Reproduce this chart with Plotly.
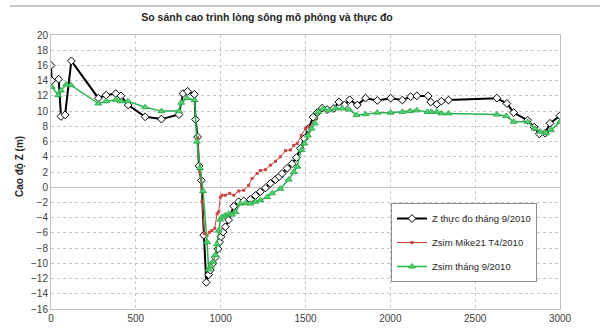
import plotly.graph_objects as go

# Measured bed elevation, Sept 2010
x_meas = [0, 4, 45, 59, 83, 120, 279, 325, 382, 412, 455, 555, 651, 754, 778, 805, 845, 852, 864, 872, 886,
          900, 915, 929, 939, 955, 969, 984, 994, 1002, 1014, 1028, 1047, 1077, 1106, 1136, 1175, 1205, 1234,
          1264, 1293, 1323, 1345, 1362, 1392, 1421, 1447, 1470, 1494, 1516, 1545, 1569, 1599, 1628, 1667,
          1697, 1730, 1760, 1805, 1854, 1923, 2002, 2071, 2120, 2156, 2223, 2238, 2274, 2301, 2343, 2628,
          2687, 2727, 2809, 2848, 2878, 2913, 2941, 3000]
z_meas = [16.0, 14.0, 14.2, 9.3, 9.5, 16.6, 11.7, 12.1, 12.3, 12.0, 10.8, 9.25, 8.95, 9.55, 12.3, 12.6, 12.2,
          8.9, 6.6, 2.8, 0.9, -6.3, -12.5, -11.5, -10.9, -10.0, -9.2, -8.1, -7.2, -6.5, -5.9, -5.2, -4.3,
          -2.5, -1.9, -1.8, -1.6, -1.1, -0.6, -0.1, 0.5, 1.0, 1.4, 1.8, 2.5, 3.1, 3.9, 5.1, 6.4, 7.7, 9.2,
          9.8, 10.4, 10.2, 10.35, 11.2, 10.8, 11.5, 10.8, 11.7, 11.4, 11.7, 11.45, 11.9, 12.0, 12.0, 11.2,
          10.9, 11.3, 11.45, 11.7, 11.0, 9.8, 8.8, 7.9, 7.0, 7.1, 8.4, 9.4]

# Mike21 simulation, April 2010
x_m21 = [864, 877, 890, 904, 920, 935, 949, 965, 979, 988, 998, 1008, 1028, 1053, 1077, 1106, 1136, 1165,
         1185, 1215, 1234, 1264, 1293, 1323, 1352, 1382, 1411, 1431, 1451, 1475, 1500, 1520, 1545, 1565]
z_m21 = [6.5, 2.0, -1.9, -6.1, -6.3, -5.9, -5.7, -5.4, -3.5, -3.25, -1.3, -1.05, -1.05, -0.8, -1.05, -0.5,
         -0.4, 0.25, 1.15, 1.8, 2.2, 2.3, 2.9, 3.4, 4.0, 4.8, 4.9, 5.5, 5.75, 6.8, 7.7, 7.9, 8.4, 9.0]

# Simulation, Sept 2010
x_sim = [4, 43, 59, 89, 118, 279, 325, 382, 412, 453, 555, 651, 754, 768, 801, 846, 860, 878, 896, 920,
         929, 943, 955, 969, 978, 988, 998, 1008, 1028, 1047, 1067, 1087, 1116, 1146, 1175, 1205, 1234,
         1274, 1303, 1352, 1401, 1431, 1451, 1475, 1494, 1514, 1536, 1555, 1575, 1605, 1638, 1677, 1717,
         1756, 1801, 1854, 1923, 2002, 2071, 2116, 2156, 2219, 2242, 2274, 2301, 2343, 2628, 2683, 2727,
         2809, 2852, 2884, 2917, 2947, 3000]
z_sim = [13.2, 12.1, 12.7, 13.5, 13.4, 11.0, 11.3, 11.5, 11.3, 11.3, 10.5, 10.0, 10.0, 11.1, 11.7, 11.45,
         6.0, 2.5, -0.5, -7.2, -10.8, -10.4, -9.8, -8.9, -7.5, -5.7, -4.25, -3.9, -3.7, -3.5, -3.6, -3.25,
         -2.15, -2.1, -2.15, -1.9, -1.7, -1.3, -0.8, -0.2, 1.0, 2.0, 2.7, 4.9, 5.75, 6.8, 7.7, 8.4, 9.9,
         10.35, 10.1, 10.35, 10.35, 10.2, 9.5, 9.6, 9.8, 9.8, 9.9, 10.0, 10.1, 9.9, 9.9, 9.9, 9.7, 9.7,
         9.55, 9.35, 8.6, 8.6, 7.7, 7.3, 7.1, 7.5, 8.6]

x_ticks = [0, 500, 1000, 1500, 2000, 2500, 3000]
y_ticks = list(range(-16, 21, 2))

GREEN = "#2bb24c"
RED = "#c9453f"
FONT = "Liberation Sans"

fig = go.Figure()
fig.add_trace(go.Scatter(
    x=x_meas, y=z_meas, mode="lines+markers", name="Z thực đo tháng 9/2010",
    line=dict(color="black", width=2),
    marker=dict(symbol="diamond", size=6, color="white", line=dict(color="black", width=1)),
    legendgroup="a"))
fig.add_trace(go.Scatter(
    x=x_m21, y=z_m21, mode="lines+markers", name="Zsim Mike21 T4/2010",
    line=dict(color=RED, width=1),
    marker=dict(symbol="square", size=3, color=RED),
    legendgroup="b"))
fig.add_trace(go.Scatter(
    x=x_sim, y=z_sim, mode="lines+markers", name="Zsim tháng 9/2010",
    line=dict(color=GREEN, width=1.5),
    marker=dict(symbol="triangle-up", size=6, color="#5ccc76", line=dict(color=GREEN, width=1)),
    legendgroup="c"))

fig.update_layout(
    width=600, height=335,
    margin=dict(l=51, r=40, t=35, b=26),
    paper_bgcolor="white", plot_bgcolor="white",
    font=dict(family=FONT, size=10, color="#404040"),
    title=dict(text="<b>So sánh cao trình lòng sông mô phỏng và thực đo</b>",
               x=267/600, xanchor="center", y=1 - 17/335, yanchor="middle",
               font=dict(size=10.5, color="#262626")),
    showlegend=True,
    legend=dict(x=(537-51)/509, y=(309-203)/274, xanchor="right", yanchor="top",
                bordercolor="#8c8c8c", borderwidth=1, bgcolor="white",
                font=dict(size=9.5, color="#262626"), tracegroupgap=5,
                itemwidth=30),
)
fig.update_xaxes(range=[0, 3000], tickvals=x_ticks, showgrid=True,
                 gridcolor="#c8c8c8", griddash="dot", gridwidth=1,
                 showline=True, linecolor="#bfbfbf", mirror=True, zeroline=False,
                 ticks="", tickfont=dict(size=10, color="#404040"))
fig.update_yaxes(range=[-16, 20], tickvals=y_ticks, showgrid=True,
                 gridcolor="#c8c8c8", griddash="dot", gridwidth=1,
                 showline=True, linecolor="#bfbfbf", mirror=True,
                 zeroline=True, zerolinecolor="#bfbfbf", zerolinewidth=1,
                 ticks="", tickfont=dict(size=10, color="#404040"))

fig.add_annotation(text="<b>Cao độ Z (m)</b>", textangle=-90, xref="paper", yref="paper",
                   x=(20-51)/509, y=(309-167)/274, xanchor="center", yanchor="middle",
                   showarrow=False, font=dict(size=10, color="#262626"))
fig.add_shape(type="line", xref="paper", yref="paper", layer="above",
              x0=(10-51)/509, x1=(600-51)/509,
              y0=(309-6)/274, y1=(309-6)/274, line=dict(color="#c8c8c8", width=2))

fig.write_html("out.html", config={"displayModeBar": False},
               post_script="document.body.style.margin='0';")
